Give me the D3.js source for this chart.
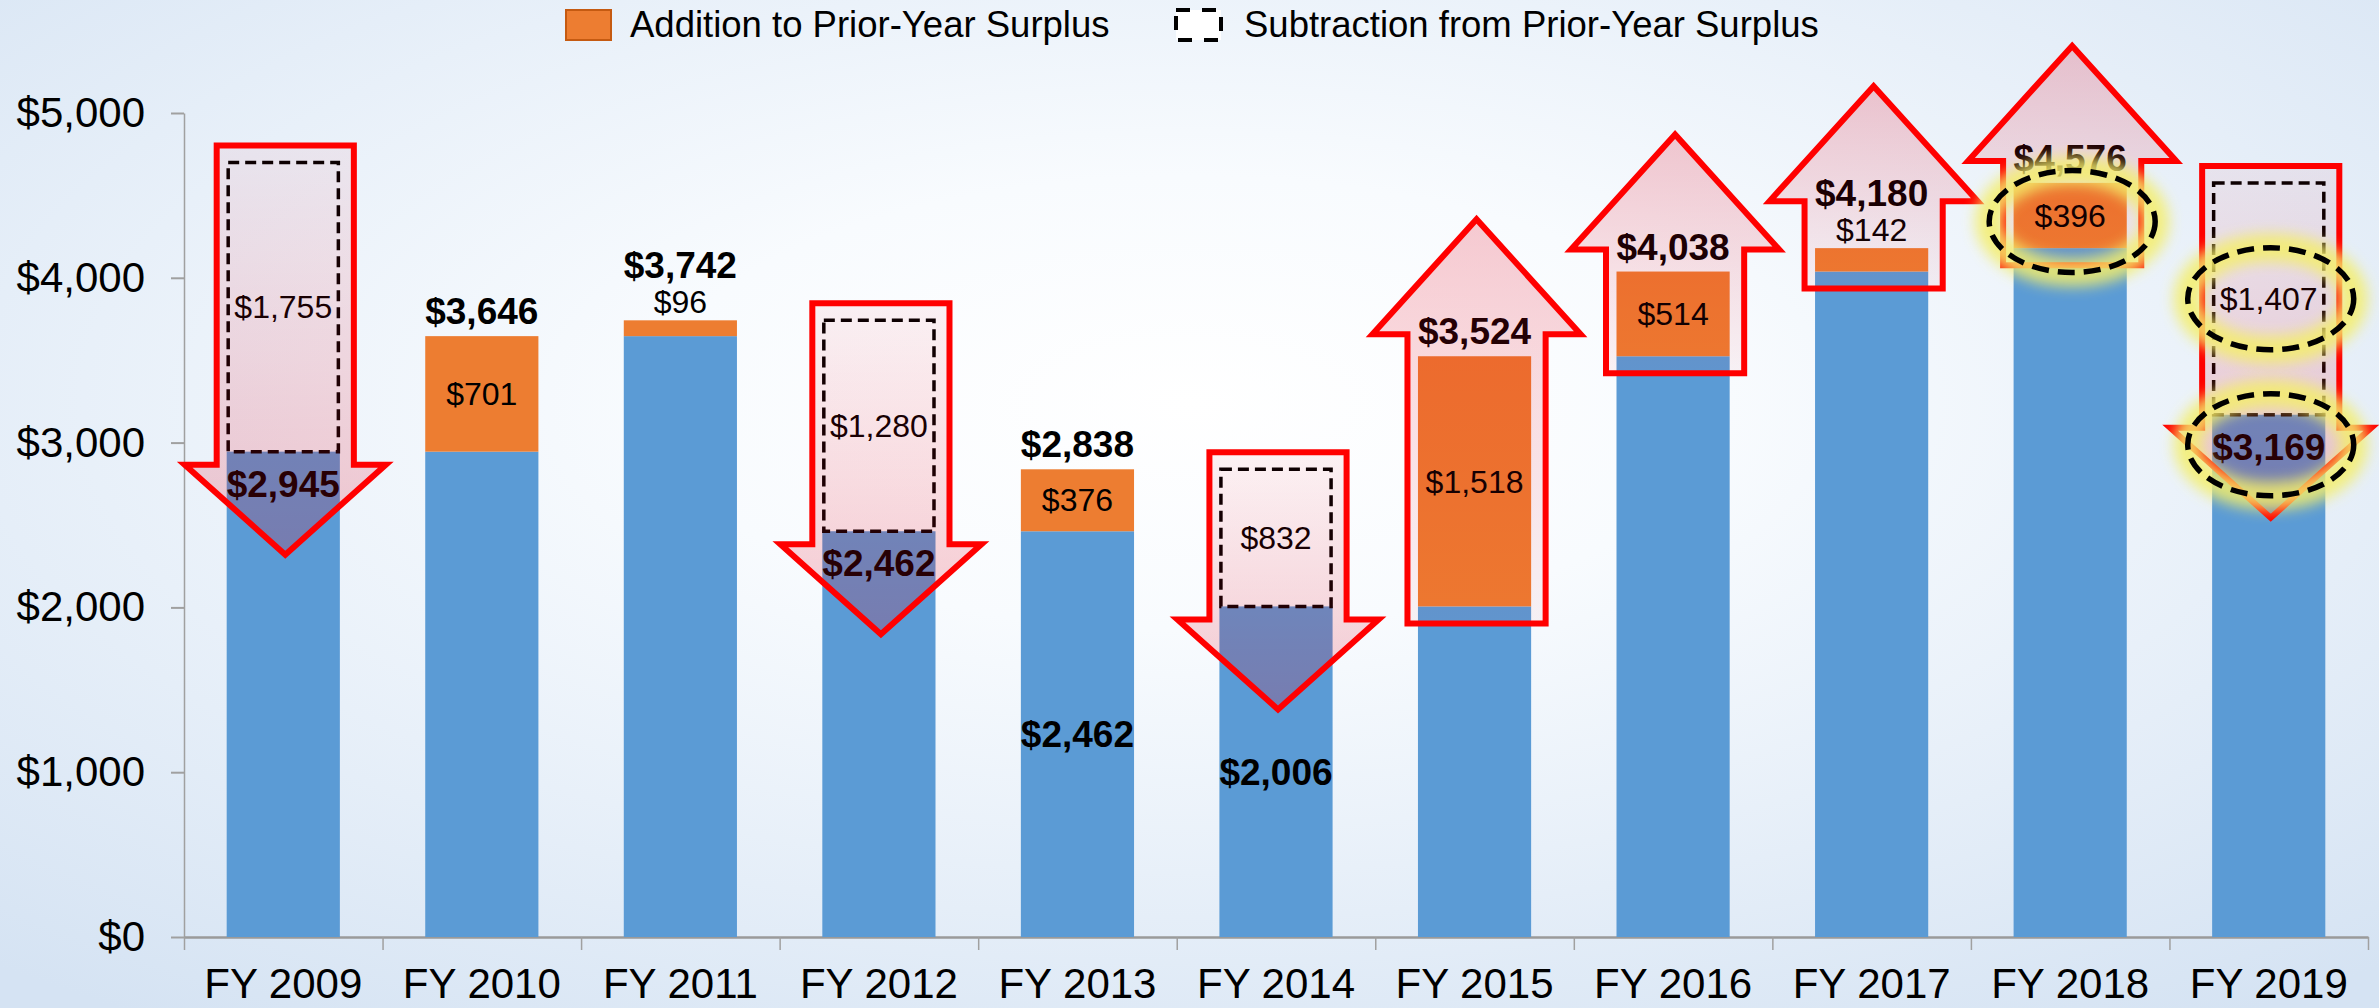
<!DOCTYPE html>
<html>
<head>
<meta charset="utf-8">
<script src="https://cdn.jsdelivr.net/npm/d3@7"></script>
<style>
  body { margin: 0; background: #fff; }
  svg { display: block; font-family: "Liberation Sans", Arial, sans-serif; }
</style>
</head>
<body>
<div id="chart"></div>
<script>
const years = ["FY 2009", "FY 2010", "FY 2011", "FY 2012", "FY 2013", "FY 2014",
               "FY 2015", "FY 2016", "FY 2017", "FY 2018", "FY 2019"];
const baseValues   = [2945, 2945, 3646, 2462, 2462, 2006, 2006, 3524, 4038, 4180, 3169];
const additions    = [0, 701, 96, 0, 376, 0, 1518, 514, 142, 396, 0];
const subtractions = [1755, 0, 0, 1280, 0, 832, 0, 0, 0, 0, 1407];
const yTicks = [0, 1000, 2000, 3000, 4000, 5000];
const legendLabels = ["Addition to Prior-Year Surplus", "Subtraction from Prior-Year Surplus"];

// annotations drawn on top of the bars
const arrowYears = ["FY 2009", "FY 2012", "FY 2014", "FY 2015", "FY 2016", "FY 2017", "FY 2018", "FY 2019"];
const centerBaseLabelYears = ["FY 2013", "FY 2014"];
const highlights = [
  { year: "FY 2018", part: "addition" },
  { year: "FY 2019", part: "subtraction" },
  { year: "FY 2019", part: "total" }
];

const W = 2379, H = 1008;
const BLUE = "#5b9bd5", ORANGE = "#ed7d31", RED = "#ff0000";
const fmt = v => "$" + d3.format(",")(v);

const rows = years.map((y, i) => ({
  year: y,
  base: baseValues[i],
  add: additions[i],
  sub: subtractions[i]
}));

const svg = d3.select("#chart").append("svg")
  .attr("width", W).attr("height", H);

const defs = svg.append("defs");

const bg = defs.append("radialGradient").attr("id", "bg")
  .attr("cx", "50%").attr("cy", "40%").attr("r", "75%");
bg.append("stop").attr("offset", "0").attr("stop-color", "#ffffff");
bg.append("stop").attr("offset", "0.3").attr("stop-color", "#f8fbfe");
bg.append("stop").attr("offset", "1").attr("stop-color", "#d5e3f3");

const gDown = defs.append("linearGradient").attr("id", "arrowDown")
  .attr("x1", 0).attr("y1", 0).attr("x2", 0).attr("y2", 1);
gDown.append("stop").attr("offset", "0").attr("stop-color", "#e8001a").attr("stop-opacity", 0.05);
gDown.append("stop").attr("offset", "1").attr("stop-color", "#e8001a").attr("stop-opacity", 0.2);

const gUp = defs.append("linearGradient").attr("id", "arrowUp")
  .attr("x1", 0).attr("y1", 1).attr("x2", 0).attr("y2", 0);
gUp.append("stop").attr("offset", "0").attr("stop-color", "#e8001a").attr("stop-opacity", 0.04);
gUp.append("stop").attr("offset", "1").attr("stop-color", "#e8001a").attr("stop-opacity", 0.2);

defs.append("filter").attr("id", "glow")
  .attr("x", "-50%").attr("y", "-50%").attr("width", "200%").attr("height", "200%")
  .append("feGaussianBlur").attr("stdDeviation", 7);

svg.append("rect").attr("width", W).attr("height", H).attr("fill", "url(#bg)");

const x = d3.scaleBand().domain(years).range([184, 2368])
  .paddingInner(0.43).paddingOuter(0.215);
const y = d3.scaleLinear().domain([0, 5000]).range([937, 113]);
const bw = x.bandwidth();
const cx = d => x(d.year) + bw / 2;

// axes
const yAxis = svg.append("g")
  .attr("transform", "translate(184,0)")
  .call(d3.axisLeft(y).tickValues(yTicks).tickFormat(fmt)
    .tickSize(13).tickSizeOuter(0).tickPadding(26));
yAxis.select(".domain").attr("stroke", "#a0a0a0").attr("stroke-width", 1.5);
yAxis.selectAll(".tick line").attr("stroke", "#a0a0a0").attr("stroke-width", 2);
yAxis.selectAll("text").attr("font-size", 42).attr("fill", "#000");

const boundary = d3.scaleLinear().domain([0, years.length]).range([184, 2368]);
const xTicks = svg.append("g")
  .attr("transform", "translate(0,937)")
  .call(d3.axisBottom(boundary).tickValues(d3.range(years.length + 1))
    .tickFormat("").tickSize(13).tickSizeOuter(0));
xTicks.select(".domain").attr("stroke", "#9a9a9a").attr("stroke-width", 2.5);
xTicks.selectAll(".tick line").attr("stroke", "#a0a0a0").attr("stroke-width", 1.5);

const xAxis = svg.append("g")
  .attr("transform", "translate(0,937)")
  .call(d3.axisBottom(x).tickSize(0).tickPadding(31));
xAxis.select(".domain").remove();
xAxis.selectAll("text").attr("font-size", 42).attr("fill", "#000");

// bars
const bars = svg.append("g");
bars.selectAll(".base").data(rows).enter().append("rect")
  .attr("x", d => x(d.year)).attr("width", bw)
  .attr("y", d => y(d.base)).attr("height", d => y(0) - y(d.base))
  .attr("fill", BLUE);
bars.selectAll(".add").data(rows.filter(d => d.add > 0)).enter().append("rect")
  .attr("x", d => x(d.year)).attr("width", bw)
  .attr("y", d => y(d.base + d.add)).attr("height", d => y(d.base) - y(d.base + d.add))
  .attr("fill", ORANGE);
bars.selectAll(".sub").data(rows.filter(d => d.sub > 0)).enter().append("rect")
  .attr("x", d => x(d.year) + 1.5).attr("width", bw - 3)
  .attr("y", d => y(d.base + d.sub)).attr("height", d => y(d.base) - y(d.base + d.sub))
  .attr("fill", "none").attr("stroke", "#000").attr("stroke-width", 3.5)
  .attr("stroke-dasharray", "11,6");

// value labels
const labels = svg.append("g").attr("text-anchor", "middle").attr("fill", "#000");
rows.forEach(d => {
  const c = cx(d);
  if (d.add > 0) {
    const top = y(d.base + d.add);
    const small = y(d.base) - top < 45;
    if (small) {
      labels.append("text").attr("x", c).attr("y", top - 7)
        .attr("font-size", 32).text(fmt(d.add));
    } else {
      labels.append("text").attr("x", c).attr("y", (top + y(d.base)) / 2)
        .attr("dy", "0.35em").attr("font-size", 32).text(fmt(d.add));
    }
    labels.append("text").attr("x", c).attr("y", small ? top - 42 : top - 12)
      .attr("font-size", 37).attr("font-weight", "bold").text(fmt(d.base + d.add));
  }
  if (d.sub > 0) {
    labels.append("text").attr("x", c).attr("y", (y(d.base) + y(d.base + d.sub)) / 2)
      .attr("dy", "0.35em").attr("font-size", 32).text(fmt(d.sub));
    if (!centerBaseLabelYears.includes(d.year)) {
      labels.append("text").attr("x", c).attr("y", y(d.base) + 45)
        .attr("font-size", 37).attr("font-weight", "bold").text(fmt(d.base));
    }
  }
  if (centerBaseLabelYears.includes(d.year)) {
    labels.append("text").attr("x", c).attr("y", (y(0) + y(d.base)) / 2)
      .attr("dy", "0.35em").attr("font-size", 37).attr("font-weight", "bold").text(fmt(d.base));
  }
});

// arrows
function arrowPoints(c, shaftW, headW, tail, shoulder, tip) {
  return [
    [c - shaftW / 2, tail], [c + shaftW / 2, tail], [c + shaftW / 2, shoulder],
    [c + headW / 2, shoulder], [c, tip], [c - headW / 2, shoulder], [c - shaftW / 2, shoulder]
  ];
}
const arrows = svg.append("g");
rows.filter(d => arrowYears.includes(d.year)).forEach(d => {
  const c = cx(d) + 2;
  let pts, fill;
  if (d.sub > 0) {
    const tail = y(d.base + d.sub) - 17;
    const shoulder = y(d.base) + 13;
    pts = arrowPoints(c, bw + 24, bw + 88, tail, shoulder, shoulder + 90);
    fill = "url(#arrowDown)";
  } else {
    const top = y(d.base + d.add);
    const small = y(d.base) - top < 45;
    const tail = y(d.base) + 17;
    const shoulder = small ? top - 47 : top - 22;
    pts = arrowPoints(c, bw + 25, bw + 95, tail, shoulder, shoulder - 115);
    fill = "url(#arrowUp)";
  }
  arrows.append("path")
    .attr("d", d3.line()(pts) + "Z")
    .attr("fill", fill)
    .attr("stroke", RED).attr("stroke-width", 6).attr("stroke-linejoin", "miter");
});

// highlight rings
const rings = svg.append("g");
highlights.forEach(h => {
  const d = rows.find(r => r.year === h.year);
  let cy;
  if (h.part === "addition") cy = (y(d.base) + y(d.base + d.add)) / 2 + 6;
  else if (h.part === "subtraction") cy = (y(d.base) + y(d.base + d.sub)) / 2;
  else cy = y(d.base) + 30;
  rings.append("ellipse")
    .attr("cx", cx(d) + 2).attr("cy", cy).attr("rx", 83).attr("ry", 51)
    .attr("fill", "none").attr("stroke", "#f4ee6a").attr("stroke-width", 28)
    .attr("opacity", 0.85).attr("filter", "url(#glow)");
  rings.append("ellipse")
    .attr("cx", cx(d) + 2).attr("cy", cy).attr("rx", 83).attr("ry", 51)
    .attr("fill", "none").attr("stroke", "#000").attr("stroke-width", 5.5)
    .attr("stroke-dasharray", "17,9");
});

// legend
const legend = svg.append("g");
legend.append("rect").attr("x", 566).attr("y", 10).attr("width", 45).attr("height", 30)
  .attr("fill", ORANGE).attr("stroke", "#c55a11").attr("stroke-width", 2);
legend.append("text").attr("x", 630).attr("y", 37).attr("font-size", 36.5).text(legendLabels[0]);
legend.append("rect").attr("x", 1176).attr("y", 10).attr("width", 45).attr("height", 30)
  .attr("fill", "#fff").attr("stroke", "#000").attr("stroke-width", 4)
  .attr("stroke-dasharray", "14,12");
legend.append("text").attr("x", 1244).attr("y", 37).attr("font-size", 36.5).text(legendLabels[1]);
</script>
</body>
</html>
